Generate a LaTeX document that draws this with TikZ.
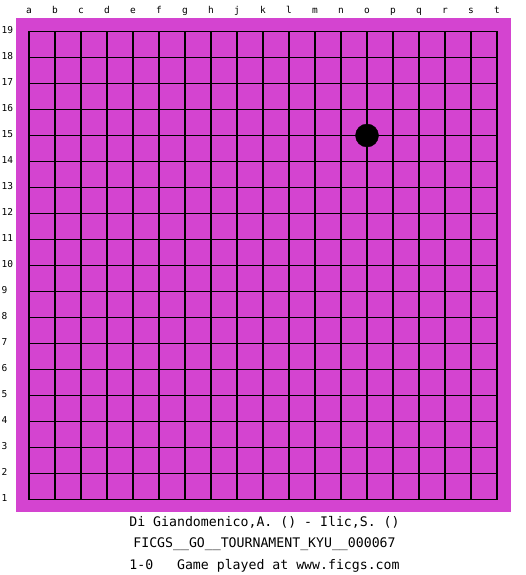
\documentclass[tikz,border=0pt]{standalone}
\usepackage{fontspec}
\setmonofont{DejaVu Sans Mono}
\usepackage{tikz}
\usetikzlibrary{positioning}
\definecolor{boardpink}{RGB}{212,68,208}
\tikzset{coordlabel/.style={font=\ttfamily\fontsize{9.5}{10}\selectfont, inner sep=0pt}}
\tikzset{caption/.style={font=\ttfamily\fontsize{13.2}{14}\selectfont, inner sep=0pt, anchor=base}}
\tikzset{stone/.style={circle, fill=black, draw=black, minimum size=23pt, inner sep=0pt}}

\begin{document}
\begin{tikzpicture}[x=1pt, y=-1pt]
      \useasboundingbox (0,0) rectangle (525,575);
      \fill[boardpink] (16,18) rectangle (511,512);

      % grid lines
      \foreach \i in {0,...,18} {
        \draw[line width=1.1pt] (29+26*\i,31.5) -- (29+26*\i,499.5);
        \draw[line width=1.1pt] (29,31.5+26*\i) -- (497,31.5+26*\i);
      }

      % column letters and row numbers
      \foreach \l [count=\i from 0] in {a,b,c,d,e,f,g,h,j,k,l,m,n,o,p,q,r,s,t}
        \node[coordlabel, anchor=base] (col-\l) at (29+26*\i,14) {\l};
      \foreach \n in {1,...,19}
        \node[coordlabel, anchor=base west] (row-\n) at (1.5,{33.5+26*(19-\n)}) {\n};

      \node[stone] (o15) at (367,135.5) {};

      \node[caption] (players) at (264.5,526) {Di Giandomenico,A. () - Ilic,S. ()};
      \node[caption] (event) [below=21.5pt of players.base, anchor=base] {FICGS\_\_GO\_\_TOURNAMENT\_KYU\_\_000067};
      \node[caption] (result) [below=21.5pt of event.base, anchor=base] {1-0\ \ \ Game played at www.ficgs.com};
\end{tikzpicture}
\end{document}
